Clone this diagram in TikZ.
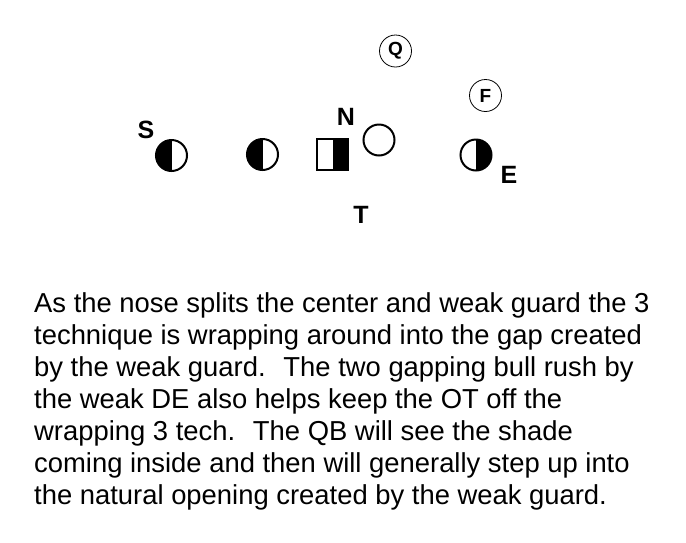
\documentclass[tikz,border=0pt]{standalone}
\usepackage{fontspec}
\setmainfont{Liberation Sans}
\usetikzlibrary{positioning}

\begin{document}
\begin{tikzpicture}[x=1pt,y=-1pt,
 man/.style={circle,draw,line width=2pt,minimum size=31pt,inner sep=0pt},
 lefthalf/.style={man,path picture={\fill (path picture bounding box.south west) rectangle (path picture bounding box.north);}},
 righthalf/.style={man,path picture={\fill (path picture bounding box.south) rectangle (path picture bounding box.north east);}},
 back/.style={circle,draw,line width=0.8pt,minimum size=32pt,inner sep=0pt,font=\bfseries\fontsize{19}{19}\selectfont},
 lbl/.style={font=\bfseries\fontsize{25}{25}\selectfont,inner sep=0pt},
 txt/.style={anchor=base west,inner sep=0pt,font=\fontsize{27.4}{32}\selectfont}]
\useasboundingbox (0,0) rectangle (686,542);
% defense
\node[lefthalf] (s) at (171.5,155.5) {};
\node[lefthalf] (wg) at (262.5,154.5) {};
\node[draw,line width=2pt,minimum size=31pt,inner sep=0pt,
 path picture={\fill (path picture bounding box.south) rectangle (path picture bounding box.north east);}] (c) at (332.5,154) {};
\node[man] (n) at (379,140) {};
\node[righthalf] (e) at (476,155) {};
% back
\node[back] (q) at (395.5,51) {Q};
\node[back] (f) at (485.5,95.5) {F};
% labels
\node[lbl] (ls) at (146,130) {S};
\node[lbl] (ln) at (346,117) {N};
\node[lbl] (le) at (509,175) {E};
\node[lbl] (lt) at (361,215) {T};
% text
\foreach \line [count=\i] in {As the nose splits the center and weak guard the 3,
 technique is wrapping around into the gap created,
 by the weak guard.~ The two gapping bull rush by,
 the weak DE also helps keep the OT off the,
 wrapping 3 tech.~ The QB will see the shade,
 coming inside and then will generally step up into,
 the natural opening created by the weak guard.}
 \node[txt] (line\i) at (34,{312+32*(\i-1)}) {\line};
\end{tikzpicture}
\end{document}
